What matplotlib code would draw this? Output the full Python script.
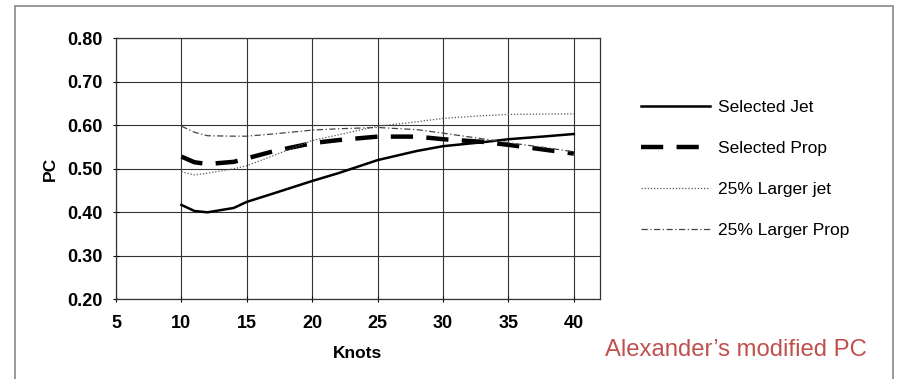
import matplotlib
matplotlib.use("Agg")
import matplotlib.pyplot as plt
from matplotlib.patches import Rectangle

plt.rcParams['font.family'] = ['Liberation Sans', 'DejaVu Sans']

knots = [10, 11, 12, 14, 15, 17, 20, 22, 25, 28, 30, 33, 35, 38, 40]
selected_jet = [0.417, 0.403, 0.400, 0.410, 0.424, 0.443, 0.472, 0.490, 0.520, 0.541, 0.552, 0.561, 0.568, 0.575, 0.580]
selected_prop = [0.528, 0.515, 0.511, 0.516, 0.524, 0.540, 0.559, 0.566, 0.574, 0.574, 0.568, 0.562, 0.555, 0.543, 0.535]
larger_jet = [0.493, 0.486, 0.490, 0.500, 0.507, 0.530, 0.565, 0.578, 0.598, 0.608, 0.616, 0.622, 0.625, 0.626, 0.626]
larger_prop = [0.598, 0.584, 0.576, 0.575, 0.575, 0.580, 0.589, 0.592, 0.595, 0.590, 0.582, 0.569, 0.560, 0.548, 0.539]

series_names = ["Selected Jet", "Selected Prop", "25% Larger jet", "25% Larger Prop"]
x_ticks = [5, 10, 15, 20, 25, 30, 35, 40]
y_ticks = [0.20, 0.30, 0.40, 0.50, 0.60, 0.70, 0.80]

fig = plt.figure(figsize=(8.98, 3.79), dpi=100)
ax = fig.add_axes([116/898, 1 - 299.3/379, (600 - 116)/898, (299.3 - 38.3)/379])

ax.plot(knots, selected_jet, color='black', lw=1.8, label=series_names[0])
ax.plot(knots, selected_prop, color='black', lw=3.2, linestyle=(0, (5, 3)), label=series_names[1])
ax.plot(knots, larger_jet, color='#555555', lw=0.9, linestyle=(0, (1, 1.5)), label=series_names[2])
ax.plot(knots, larger_prop, color='#444444', lw=0.9, linestyle=(0, (5, 2, 1, 2)), label=series_names[3])

ax.set_xlim(5, 42)
ax.set_ylim(0.20, 0.80)
ax.set_xticks(x_ticks)
ax.set_yticks(y_ticks)
ax.set_yticklabels([f"{v:.2f}" for v in y_ticks])
ax.grid(True, color='#333333', lw=0.8)
ax.set_axisbelow(True)
for s in ax.spines.values():
    s.set_color('#333333')
    s.set_linewidth(0.9)
ax.tick_params(axis='both', direction='inout', length=5, width=0.8, labelsize=13)
ax.tick_params(axis='y', pad=7)
ax.tick_params(axis='x', pad=9)
for lab in ax.get_xticklabels() + ax.get_yticklabels():
    lab.set_fontweight('bold')

ax.set_xlabel("Knots", fontsize=12.5, fontweight='bold', labelpad=10)
ax.set_ylabel("PC", fontsize=12.5, fontweight='bold', labelpad=7)

leg = fig.legend(loc='upper left', bbox_to_anchor=(625/898, 1 - 84/379), frameon=False,
                 fontsize=12.5, handlelength=4.0, handletextpad=0.45, labelspacing=1.5)

fig.text(605/898, 1 - 350/379, "Alexander\u2019s modified PC", color='#C0504D',
         fontsize=17.2, va='center', ha='left')

fig.patches.append(Rectangle((15/898, -0.05), (893 - 15)/898, 1 - 6/379 + 0.05,
                             transform=fig.transFigure, fill=False,
                             edgecolor='#888888', lw=1.2))

fig.savefig("out.png", dpi=100)
